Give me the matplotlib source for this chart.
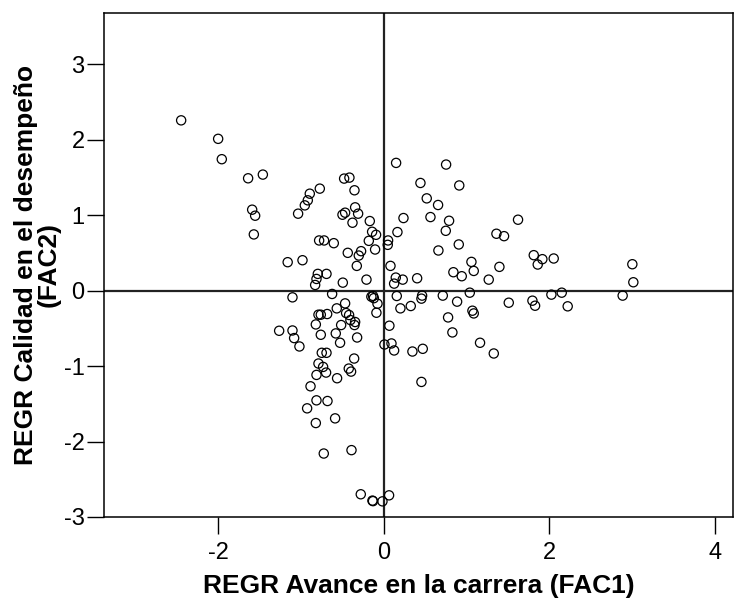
import numpy as np
import matplotlib.pyplot as plt

plt.rcParams['font.family'] = ['Liberation Sans', 'DejaVu Sans']
plt.rcParams['axes.unicode_minus'] = False

# Puntuaciones factoriales
fac1 = [-2.448, -2.001, -1.957, -1.639, -1.461, -1.590, -1.554, -1.570, -1.035, -1.161,
        -0.982, -1.103, 0.149, 0.753, -0.479, -0.415, -0.773, -0.894, -0.918, -0.954,
        -0.354, 0.443, 0.912, 0.519, 0.656, -0.346, -0.467, -0.499, -0.310, -0.378,
        -0.169, 0.238, 0.564, 0.789, 0.749, -0.141, -0.093, 0.165, -0.181, 0.052,
        0.048, 0.906, -0.781, -0.721, -0.604, -0.105, -0.435, -0.274, -0.302, 0.660,
        -0.326, 0.081, 1.059, 1.087, 0.841, 0.942, 0.403, 0.145, 0.229, 0.125,
        -0.209, -0.797, -0.813, -0.829, -0.692, -0.495, -0.624, 0.157, 0.463, 0.455,
        0.713, 1.039, 1.622, 1.361, 1.453, 1.397, 1.268, 1.812, 1.916, 1.860,
        2.053, 3.003, 3.015, 1.510, 1.796, 1.828, 2.025, 2.150, 2.886, 2.222,
        -0.150, -0.120, -0.130, -0.076, 0.777, 0.829, -0.467, -0.568, -0.455, -0.419,
        -0.403, -0.346, -0.354, -0.089, 0.201, 0.326, -0.789, -0.761, -0.684, -0.821,
        -0.515, -1.264, -1.103, -1.083, -1.019, -0.761, -0.580, -0.322, -0.528, 0.068,
        0.008, 0.093, 0.125, 0.346, 0.471, 0.455, -0.749, -0.692, -0.358, -0.789,
        -0.733, -0.697, -0.813, -0.423, -0.395, -0.564, -0.885, -0.813, -0.680, -0.926,
        -0.588, -0.821, -0.725, -0.390, -0.278, -0.137, -0.130, -0.016, 0.064, 0.886,
        1.071, 1.087, 1.163, 1.329]
fac2 = [2.257, 2.012, 1.742, 1.489, 1.538, 1.073, 0.993, 0.745, 1.020, 0.377,
        0.403, -0.089, 1.693, 1.671, 1.485, 1.498, 1.352, 1.285, 1.197, 1.130,
        1.330, 1.427, 1.394, 1.223, 1.135, 1.104, 1.033, 1.006, 1.020, 0.900,
        0.922, 0.962, 0.975, 0.926, 0.793, 0.780, 0.740, 0.776, 0.660, 0.665,
        0.607, 0.612, 0.665, 0.665, 0.629, 0.545, 0.501, 0.523, 0.465, 0.532,
        0.328, 0.328, 0.381, 0.261, 0.244, 0.191, 0.164, 0.173, 0.146, 0.093,
        0.146, 0.222, 0.155, 0.075, 0.222, 0.106, -0.044, -0.071, -0.066, -0.106,
        -0.066, -0.027, 0.940, 0.754, 0.722, 0.315, 0.146, 0.470, 0.417, 0.346,
        0.426, 0.350, 0.111, -0.160, -0.133, -0.200, -0.053, -0.027, -0.066, -0.208,
        -0.080, -0.100, -0.070, -0.173, -0.355, -0.554, -0.169, -0.235, -0.297, -0.323,
        -0.390, -0.416, -0.456, -0.293, -0.235, -0.204, -0.319, -0.319, -0.310, -0.448,
        -0.456, -0.532, -0.528, -0.629, -0.740, -0.585, -0.567, -0.621, -0.691, -0.465,
        -0.714, -0.700, -0.793, -0.807, -0.771, -1.210, -0.824, -0.824, -0.900, -0.966,
        -1.011, -1.086, -1.117, -1.033, -1.073, -1.161, -1.268, -1.454, -1.463, -1.560,
        -1.693, -1.755, -2.159, -2.114, -2.699, -2.783, -2.790, -2.793, -2.713, -0.146,
        -0.266, -0.302, -0.691, -0.833]

x_ticks = [-2, 0, 2, 4]
y_ticks = [-3, -2, -1, 0, 1, 2, 3]

fig = plt.figure(figsize=(7.34, 6.01), dpi=100)
ax = fig.add_axes([0.1417, 0.1398, 0.8576, 0.8386])

ax.axhline(0, color='#222222', lw=1.6, zorder=1)
ax.axvline(0, color='#222222', lw=1.6, zorder=1)
ax.scatter(fac1, fac2, s=44, facecolors='none', edgecolors='black', linewidths=0.9, zorder=2)

ax.set_xlim(-3.38, 4.225)
ax.set_ylim(-3.0, 3.68)
ax.set_xticks(x_ticks)
ax.set_yticks(y_ticks)
ax.tick_params(axis='both', direction='out', length=12, width=1, labelsize=17)
ax.tick_params(axis='x', pad=6)
ax.tick_params(axis='y', pad=2)
for s in ax.spines.values():
    s.set_linewidth(1.1)

ax.set_xlabel('REGR Avance en la carrera (FAC1)', fontsize=19, fontweight='bold', labelpad=7)
ax.set_ylabel('REGR Calidad en el desempeño\n(FAC2)', fontsize=19, fontweight='bold',
              labelpad=2, linespacing=0.95)

plt.savefig('out.png', dpi=100)
plt.close()
